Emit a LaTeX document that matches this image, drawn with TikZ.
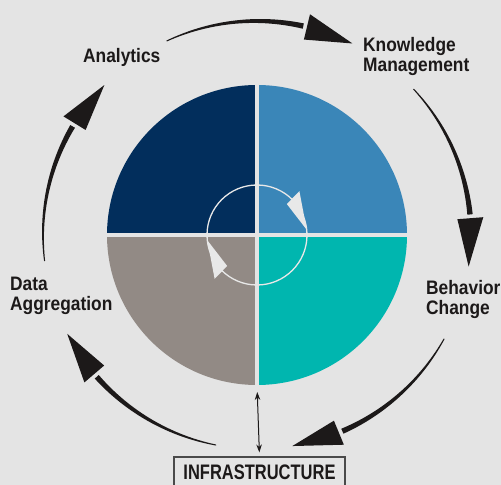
\documentclass[tikz,border=0pt]{standalone}
\usepackage{fontspec}
\usepackage{xcolor}
\usetikzlibrary{arrows.meta,shapes}
\newfontfamily\cyclefont{Liberation Sans}[FakeStretch=0.89]
\newfontfamily\basefont{Liberation Sans}[FakeStretch=0.785]
\definecolor{paper}{HTML}{E4E4E4}
\definecolor{navy}{HTML}{022E5C}
\definecolor{steel}{HTML}{3A86B8}
\definecolor{lagoon}{HTML}{00B6AF}
\definecolor{stone}{HTML}{928A85}
\definecolor{ring}{HTML}{E8E8E8}
\definecolor{ink}{HTML}{1C1919}
\definecolor{rim}{HTML}{4A4A4A}
\begin{document}
\begin{tikzpicture}[x=1bp,y=1bp,every node/.style={inner sep=0pt,minimum size=0pt},
    steplabel/.style={font=\cyclefont\bfseries\fontsize{19.5bp}{20.5bp}\selectfont,text=ink,align=left,anchor=base west}]
    \path[fill=paper](0,0) rectangle (501,485);
    \clip(0,0) rectangle (501,485);
    \coordinate(c) at (257,250);
    \coordinate(discbase) at (257,100);

    \path[fill=navy](c) -- ++(180:150) arc[start angle=180,end angle=90,radius=150] -- cycle;
    \path[fill=steel](c) -- ++(90:150) arc[start angle=90,end angle=0,radius=150] -- cycle;
    \path[fill=lagoon](c) -- ++(0:150) arc[start angle=0,end angle=-90,radius=150] -- cycle;
    \path[fill=stone](c) -- ++(-90:150) arc[start angle=-90,end angle=-180,radius=150] -- cycle;
    \path[draw=paper,line width=4bp]([xshift=-151bp]c) -- ([xshift=151bp]c);
    \path[draw=paper,line width=4bp]([yshift=-151bp]c) -- ([yshift=151bp]c);

    \path[draw=ring,line width=1.3bp](c) circle[radius=50];
    \foreach \k in {0,180}
      \path[fill=ring,shift={(c)}]({6+\k}:50) -- ({46+\k}:61) -- ({46+\k}:43) -- cycle;

    \foreach \s in {115,43,-29,-101,-173}{
      \pgfmathsetmacro\tipa{\s-51.5}
      \pgfmathsetmacro\basea{\tipa+13}
      \path[fill=ink,shift={(c)}] plot[domain=0:1,samples=30] ({\s+(\basea+1-\s)*\x}:{214.5+2.2*\x})
        -- plot[domain=1:0,samples=30] ({\s+(\basea+1-\s)*\x}:{213.5-2.2*\x}) -- cycle;
      \path[fill=ink,shift={(c)}](\tipa:214) -- (\basea:227) -- (\basea:201) -- cycle;
    }

    \node(analytics)[steplabel] at (83,422) {Analytics};
    \node(knowledge)[steplabel] at (363,413) {Knowledge\\Management};
    \node(behavior)[steplabel] at (426,170) {Behavior\\Change};
    \node(aggregation)[steplabel] at (10,174) {Data\\Aggregation};

    \node(infra)[draw=rim,line width=1.1bp,fill=paper,text=ink,anchor=base,minimum width=171bp,
      text height=23bp,text depth=10bp,font=\basefont\bfseries\fontsize{21bp}{21bp}\selectfont] at (259.5,5) {INFRASTRUCTURE};

    \path[draw=ink,line width=1bp,shorten <=4bp,shorten >=7bp,
      {Stealth[length=8bp,width=5.5bp]}-{Stealth[length=8bp,width=5.5bp]}](infra.north) -- (discbase);
  \end{tikzpicture}
\end{document}
